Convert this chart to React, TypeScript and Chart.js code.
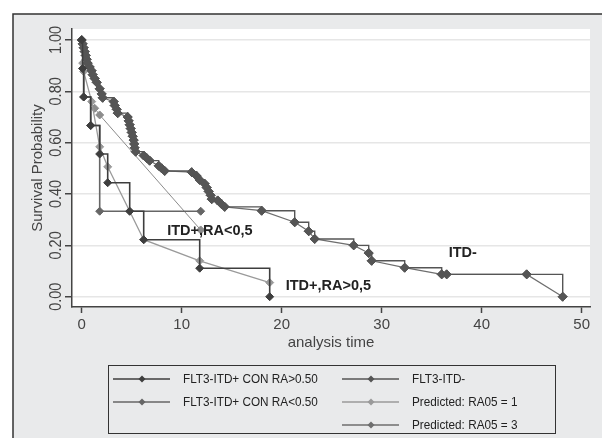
import React, { useEffect, useRef } from 'react';
import { Chart, registerables } from 'chart.js';

Chart.register(...registerables);

// ---- axis ticks ----
const xTicks = [0, 10, 20, 30, 40, 50];
const yTicks = [0, 0.2, 0.4, 0.6, 0.8, 1.0];
const yTickLabels = ['0.00', '0.20', '0.40', '0.60', '0.80', '1.00'];

// ---- observed KM: FLT3-ITD+ CON RA>0.50 ----
const raHighTime = [0, 0.1, 0.2, 0.9, 1.8, 2.6, 4.8, 6.2, 11.8, 18.8];
const raHighSurv = [1, 0.889, 0.778, 0.667, 0.556, 0.444, 0.333, 0.222, 0.111, 0];

// ---- observed KM: FLT3-ITD+ CON RA<0.50 ----
const raLowTime = [0, 0.1, 0.2, 0.9, 1.8, 11.9];
const raLowSurv = [1, 0.889, 0.778, 0.667, 0.333, 0.333];

// ---- observed KM: FLT3-ITD- ----
const itdNegTime = [0, 0.1, 0.2, 0.3, 0.4, 0.5, 0.6, 0.8, 1.0, 1.1, 1.3, 1.5, 1.8, 2.0, 2.1, 3.2, 3.3, 3.5, 3.6, 4.6, 4.7, 4.8, 4.9, 5.0, 5.1, 5.2, 5.25, 5.3, 5.4, 6.2, 6.5, 6.8, 7.7, 8.0, 8.3, 11.0, 11.5, 11.8, 12.3, 12.5, 12.7, 12.9, 13.0, 13.6, 14.0, 14.3, 18.0, 21.3, 22.7, 23.3, 27.2, 28.7, 29.0, 32.3, 36.0, 36.5, 44.5, 48.1];
const itdNegSurv = [1.0, 0.985, 0.97, 0.955, 0.94, 0.925, 0.91, 0.895, 0.88, 0.865, 0.85, 0.835, 0.81, 0.79, 0.775, 0.76, 0.745, 0.73, 0.715, 0.7, 0.685, 0.67, 0.655, 0.64, 0.625, 0.61, 0.595, 0.58, 0.565, 0.55, 0.54, 0.53, 0.51, 0.5, 0.49, 0.485, 0.47, 0.455, 0.44, 0.425, 0.41, 0.395, 0.38, 0.375, 0.36, 0.35, 0.335, 0.29, 0.255, 0.225, 0.2, 0.17, 0.14, 0.113, 0.087, 0.087, 0.087, 0];

// ---- predicted: RA05 = 1 (ITD+, RA>0.5) ----
const predHighTime = [0.1, 0.2, 1.0, 1.8, 2.6, 4.8, 6.2, 11.8, 18.8];
const predHighSurv = [0.91, 0.877, 0.76, 0.584, 0.506, 0.333, 0.222, 0.14, 0.055];

// ---- predicted: RA05 = 2 (ITD+, RA<0.5) ----
const predLowTime = [1.3, 1.8, 11.9];
const predLowSurv = [0.734, 0.708, 0.26];

// ---- predicted: RA05 = 3 (ITD-) ----
const predNegTime = [0, 0.1, 0.2, 0.3, 0.4, 0.5, 0.6, 0.8, 1.0, 1.1, 1.3, 1.5, 1.8, 2.0, 2.1, 3.2, 3.3, 3.5, 3.6, 4.6, 4.7, 4.8, 4.9, 5.0, 5.1, 5.2, 5.25, 5.3, 5.4, 6.2, 6.5, 6.8, 7.7, 8.0, 8.3, 11.0, 11.5, 11.8, 12.3, 12.5, 12.7, 12.9, 13.0, 13.6, 14.0, 14.3, 18.0, 21.3, 22.7, 23.3, 27.2, 28.7, 29.0, 32.3, 36.0, 36.5, 44.5, 48.1];
const predNegSurv = [1.0, 0.985, 0.97, 0.955, 0.94, 0.925, 0.91, 0.895, 0.88, 0.865, 0.85, 0.835, 0.81, 0.79, 0.775, 0.76, 0.745, 0.73, 0.715, 0.7, 0.685, 0.67, 0.655, 0.64, 0.625, 0.61, 0.595, 0.58, 0.565, 0.55, 0.54, 0.53, 0.51, 0.5, 0.49, 0.485, 0.47, 0.455, 0.44, 0.425, 0.41, 0.395, 0.38, 0.375, 0.36, 0.35, 0.335, 0.29, 0.255, 0.225, 0.2, 0.17, 0.14, 0.113, 0.087, 0.087, 0.087, 0];

// ---- text labels on the plot ----
const curveLabels = [
  { text: 'ITD+,RA<0,5', t: 8.55, s: 0.256 },
  { text: 'ITD+,RA>0,5', t: 20.4, s: 0.042 },
  { text: 'ITD-', t: 36.7, s: 0.17 },
];

const legendEntries = [
  { ds: 0, col: 0, row: 0 },
  { ds: 1, col: 0, row: 1 },
  { ds: 2, col: 1, row: 0 },
  { ds: 3, col: 1, row: 1 },
  { ds: 4, col: 1, row: 2 },
];

const pts = (t: number[], s: number[]) => t.map((v, i) => ({ x: v, y: s[i] }));

const FONT = "'Liberation Sans', Arial, sans-serif";

const decorPlugin = {
  id: 'decor',
  beforeDraw(chart: any) {
    const { ctx, chartArea } = chart;
    ctx.save();
    ctx.fillStyle = '#ffffff';
    ctx.fillRect(0, 0, chart.width, chart.height);
    ctx.fillStyle = '#e9eaeb';
    ctx.fillRect(13, 14, chart.width - 13, chart.height - 14);
    ctx.strokeStyle = '#333333';
    ctx.lineWidth = 1.5;
    ctx.beginPath();
    ctx.moveTo(13, chart.height);
    ctx.lineTo(13, 14);
    ctx.lineTo(chart.width, 14);
    ctx.stroke();
    ctx.fillStyle = '#ffffff';
    ctx.fillRect(chartArea.left, chartArea.top, chartArea.right - chartArea.left, chartArea.bottom - chartArea.top);
    ctx.restore();
  },
  afterDraw(chart: any) {
    const { ctx } = chart;
    const xs = chart.scales.x;
    const ys = chart.scales.y;
    ctx.save();
    // y tick labels (rotated)
    ctx.fillStyle = '#444444';
    ctx.font = `17px ${FONT}`;
    ctx.textAlign = 'center';
    ctx.textBaseline = 'middle';
    yTicks.forEach((v, i) => {
      ctx.save();
      ctx.translate(56, ys.getPixelForValue(v));
      ctx.rotate(-Math.PI / 2);
      ctx.scale(0.85, 1);
      ctx.fillText(yTickLabels[i], 0, 0);
      ctx.restore();
    });
    // curve labels
    ctx.fillStyle = '#222222';
    ctx.font = `bold 14.5px ${FONT}`;
    ctx.textAlign = 'left';
    ctx.textBaseline = 'middle';
    curveLabels.forEach((l) => {
      ctx.fillText(l.text, xs.getPixelForValue(l.t), ys.getPixelForValue(l.s));
    });
    // legend
    const bx = 108, by = 365, bw = 447, bh = 68;
    ctx.strokeStyle = '#333333';
    ctx.lineWidth = 1;
    ctx.strokeRect(bx + 0.5, by + 0.5, bw, bh);
    const colX = [113, 342];
    const rowY = [379, 402, 425];
    ctx.font = `13.5px ${FONT}`;
    ctx.textBaseline = 'middle';
    legendEntries.forEach((e) => {
      const ds = chart.data.datasets[e.ds];
      const x0 = colX[e.col];
      const y0 = rowY[e.row];
      ctx.strokeStyle = ds.borderColor;
      ctx.lineWidth = 1.5;
      ctx.beginPath();
      ctx.moveTo(x0, y0);
      ctx.lineTo(x0 + 57, y0);
      ctx.stroke();
      ctx.fillStyle = ds.pointBackgroundColor;
      const mx = x0 + 29;
      const r = 3.5;
      ctx.beginPath();
      ctx.moveTo(mx, y0 - r);
      ctx.lineTo(mx + r, y0);
      ctx.lineTo(mx, y0 + r);
      ctx.lineTo(mx - r, y0);
      ctx.closePath();
      ctx.fill();
      ctx.fillStyle = '#222222';
      ctx.save();
      ctx.translate(x0 + 70, y0);
      ctx.scale(0.87, 1);
      ctx.fillText(ds.label, 0, 0);
      ctx.restore();
    });
    ctx.restore();
  },
};

export default function App() {
  const ref = useRef<HTMLCanvasElement>(null);
  useEffect(() => {
    if (!ref.current) return;
    const mk = (label: string, data: any, color: string, stepped: any, width: number, order: number, radius: number) => ({
      label,
      data,
      borderColor: color,
      backgroundColor: color,
      pointBackgroundColor: color,
      pointBorderColor: color,
      pointStyle: 'rectRot',
      pointRadius: radius,
      pointBorderWidth: 1,
      borderWidth: width,
      stepped,
      tension: 0,
      fill: false,
      order,
    });
    const chart = new Chart(ref.current, {
      type: 'line',
      data: {
        datasets: [
          mk('FLT3-ITD+ CON RA>0.50', pts(raHighTime, raHighSurv), '#3e3e3e', 'before', 1.6, 1, 4),
          mk('FLT3-ITD+ CON RA<0.50', pts(raLowTime, raLowSurv), '#666666', 'before', 1.6, 2, 4),
          mk('FLT3-ITD-', pts(itdNegTime, itdNegSurv), '#555555', 'before', 1.4, 3, 4.5),
          mk('Predicted: RA05 = 1', pts(predHighTime, predHighSurv), '#9a9a9a', false, 1.3, 4, 4),
          mk('Predicted: RA05 = 3', pts(predNegTime, predNegSurv), '#6e6e6e', false, 1.2, 5, 4.5),
          mk('Predicted: RA05 = 2', pts(predLowTime, predLowSurv), '#8c8c8c', false, 1.0, 6, 4),
        ],
      },
      options: {
        responsive: false,
        animation: false,
        devicePixelRatio: 1,
        layout: { padding: { left: 0, right: 12, top: 29, bottom: 0 } },
        plugins: { legend: { display: false }, tooltip: { enabled: false } },
        scales: {
          x: {
            type: 'linear',
            min: -0.97,
            max: 50.83,
            afterBuildTicks: (axis: any) => {
              axis.ticks = xTicks.map((v) => ({ value: v }));
            },
            afterFit: (scale: any) => {
              scale.height = 131;
            },
            ticks: {
              color: '#444444',
              font: { family: FONT, size: 15 },
              padding: 3,
              maxRotation: 0,
              autoSkip: false,
            },
            grid: { drawOnChartArea: false, drawTicks: true, tickLength: 6, tickColor: '#444444', tickWidth: 1.5 },
            border: { color: '#444444', width: 1.5 },
            title: {
              display: true,
              text: 'analysis time',
              color: '#444444',
              font: { family: FONT, size: 15 },
              padding: { top: 0, bottom: 86 },
            },
          },
          y: {
            type: 'linear',
            min: -0.0401,
            max: 1.0429,
            afterBuildTicks: (axis: any) => {
              axis.ticks = yTicks.map((v) => ({ value: v }));
            },
            afterFit: (scale: any) => {
              scale.width = 72;
            },
            ticks: { display: false },
            grid: { color: '#e6e6e6', lineWidth: 1.5, drawTicks: true, tickLength: 7, tickColor: '#444444', tickWidth: 1.5 },
            border: { color: '#444444', width: 1.5 },
            title: {
              display: true,
              text: 'Survival Probability',
              color: '#444444',
              font: { family: FONT, size: 15 },
              padding: { top: 28.5, bottom: 0 },
            },
          },
        },
      },
      plugins: [decorPlugin],
    } as any);
    return () => chart.destroy();
  }, []);
  return (
    <div style={{ position: 'fixed', left: 0, top: 0, width: 602, height: 438 }}>
      <canvas ref={ref} width={602} height={438} style={{ display: 'block', width: 602, height: 438 }} />
    </div>
  );
}
